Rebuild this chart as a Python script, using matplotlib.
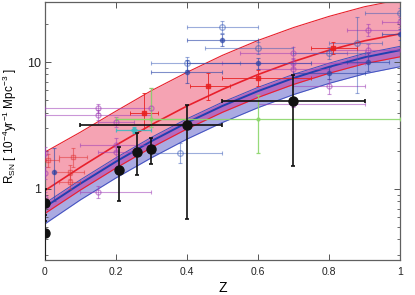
import matplotlib
matplotlib.use('Agg')
import matplotlib.pyplot as plt
import numpy as np
from matplotlib.ticker import LogLocator, NullFormatter, FixedLocator, FixedFormatter

plt.rcParams['font.family'] = ['Liberation Sans', 'DejaVu Sans']
plt.rcParams['mathtext.fontset'] = 'custom'
plt.rcParams['mathtext.rm'] = 'Liberation Sans'
plt.rcParams['mathtext.it'] = 'Liberation Sans'

# ============ МОДЕЛЬНЫЕ ПОЛОСЫ ============
z_model = [0.0, 0.1, 0.2, 0.3, 0.4, 0.5, 0.6, 0.7, 0.8, 0.9, 1.0]
red_mid = [0.97, 1.48, 2.21, 3.21, 4.50, 6.09, 7.97, 10.1, 12.4, 14.7, 16.7]
red_low = [0.64, 0.98, 1.46, 2.12, 2.97, 4.02, 5.26, 6.66, 8.16, 9.71, 11.0]
red_up = [1.95, 2.80, 4.10, 5.95, 8.3, 11.3, 14.8, 18.7, 22.9, 27.3, 31.0]
blue_mid = [0.72, 1.10, 1.64, 2.38, 3.33, 4.51, 5.90, 7.48, 9.16, 10.9, 12.4]
blue_up = [0.77, 1.18, 1.76, 2.55, 3.57, 4.83, 6.32, 8.0, 9.8, 11.7, 13.3]
blue_low = [0.53, 0.82, 1.22, 1.76, 2.47, 3.34, 4.37, 5.54, 6.79, 8.08, 9.19]

# ============ ДАННЫЕ (z, R, z_min, z_max, R_min, R_max) ============
black_z = [0.0, 0.0, 0.21, 0.26, 0.30, 0.40, 0.70]
black_r = [0.78, 0.45, 1.41, 1.96, 2.05, 3.19, 4.93]
black_zmin = [0.0, 0.0, 0.21, 0.26, 0.30, 0.10, 0.50]
black_zmax = [0.0, 0.0, 0.21, 0.26, 0.30, 0.50, 0.90]
black_rmin = [0.56, 0.25, 0.80, 1.29, 1.57, 0.58, 1.52]
black_rmax = [1.00, 0.62, 2.14, 2.76, 2.52, 4.58, 7.90]

blue_z = [0.40, 0.50, 0.60, 0.80, 0.91, 1.00, 0.025]
blue_r = [8.4, 14.9, 9.8, 8.2, 10.0, 16.6, 1.36]
blue_zmin = [0.30, 0.40, 0.40, 0.70, 0.85, 0.95, 0.025]
blue_zmax = [0.50, 0.60, 0.75, 0.90, 0.97, 1.00, 0.025]
blue_rmin = [6.9, 13.5, 8.8, 7.4, 8.5, 15.0, 0.80]
blue_rmax = [10.4, 16.5, 10.8, 9.1, 11.8, 18.2, 2.10]

bopen_z = [0.40, 0.50, 0.60, 0.80, 0.88, 1.00, 0.38]
bopen_r = [9.8, 19.0, 12.9, 11.8, 14.1, 24.3, 1.92]
bopen_zmin = [0.30, 0.40, 0.45, 0.70, 0.80, 0.90, 0.30]
bopen_zmax = [0.55, 0.60, 0.70, 0.90, 0.95, 1.00, 0.50]
bopen_rmin = [8.6, 17.0, 11.5, 10.5, 5.7, 22.0, 1.60]
bopen_rmax = [11.0, 21.0, 14.5, 13.2, 22.6, 26.5, 2.30]

purple_z = [0.15, 0.15, 0.30, 0.20, 0.20, 0.20, 0.0, 0.0, 0.0, 0.15,
            0.70, 0.70, 0.70, 0.80, 0.91, 0.91, 1.00, 0.70]
purple_r = [4.35, 3.83, 4.35, 3.37, 2.22, 1.96, 1.92, 1.34, 0.85, 0.95,
            11.8, 9.8, 8.8, 6.45, 17.9, 12.4, 20.6, 4.67]
purple_zmin = [0.0, 0.0, 0.30, 0.15, 0.10, 0.15, 0.0, 0.0, 0.0, 0.10,
               0.55, 0.50, 0.60, 0.70, 0.85, 0.80, 0.95, 0.60]
purple_zmax = [0.30, 0.30, 0.30, 0.25, 0.30, 0.25, 0.0, 0.0, 0.0, 0.30,
               0.85, 0.90, 0.80, 0.90, 1.00, 1.00, 1.00, 0.90]
purple_rmin = [4.0, 3.5, 3.1, 3.1, 2.0, 1.75, 1.7, 1.2, 0.75, 0.85,
               10.5, 8.9, 8.0, 5.6, 16.0, 11.0, 19.0, 4.4]
purple_rmax = [4.7, 4.2, 6.2, 3.7, 2.5, 2.2, 2.15, 1.5, 0.95, 1.05,
               13.2, 10.8, 9.6, 7.4, 20.0, 13.8, 22.5, 5.0]

red_z = [0.28, 0.46, 0.60, 0.81]
red_r = [3.97, 6.5, 7.5, 12.9]
red_zmin = [0.24, 0.41, 0.50, 0.75]
red_zmax = [0.32, 0.52, 0.75, 0.88]
red_rmin = [2.9, 5.0, 6.5, 11.5]
red_rmax = [5.7, 8.2, 8.7, 14.5]

ropen_z = [0.01, 0.08, 0.07, 0.07]
ropen_r = [1.69, 1.79, 1.36, 1.13]
ropen_zmin = [0.0, 0.04, 0.03, 0.04]
ropen_zmax = [0.04, 0.12, 0.11, 0.10]
ropen_rmin = [1.5, 1.5, 1.2, 1.0]
ropen_rmax = [1.9, 2.1, 1.55, 1.28]

green_z = [0.30, 0.60]
green_r = [3.55, 3.55]
green_zmin = [0.20, 0.20]
green_zmax = [0.40, 1.00]
green_rmin = [3.1, 1.92]
green_rmax = [6.2, 5.5]

cyan_z = [0.25]
cyan_r = [2.9]
cyan_zmin = [0.20]
cyan_zmax = [0.30]
cyan_rmin = [2.75]
cyan_rmax = [3.05]


def draw_points(ax, z, r, zmin, zmax, rmin, rmax, color, marker, ms, mfc, alpha, lw, zorder):
    z = np.array(z)
    r = np.array(r)
    xerr = [z - np.array(zmin), np.array(zmax) - z]
    yerr = [r - np.array(rmin), np.array(rmax) - r]
    ax.errorbar(z, r, xerr=xerr, yerr=yerr, fmt=marker, color=color, ms=ms,
                mfc=mfc, mec=color, elinewidth=lw, capsize=1.5, capthick=lw,
                alpha=alpha, zorder=zorder, clip_on=True)


fig = plt.figure(figsize=(4.15, 2.95), dpi=100)
ax = fig.add_axes([0.108, 0.119, 0.856, 0.874])

# полосы
ax.fill_between(z_model, blue_low, blue_up, color='#aaaae2', lw=0, zorder=1)
ax.fill_between(z_model, red_low, red_up, color='#f5a3b3', lw=0, zorder=1.1)
ax.fill_between(z_model, red_low, blue_up, color='#b46ac0', lw=0, zorder=1.2)
ax.plot(z_model, blue_low, color='#4050c0', lw=0.7, zorder=2)
ax.plot(z_model, blue_up, color='#4050c0', lw=0.7, zorder=2)
ax.plot(z_model, blue_mid, color='#2040b0', lw=1.4, zorder=2.2)
ax.plot(z_model, red_low, color='#e8202c', lw=0.8, zorder=2.1)
ax.plot(z_model, red_up, color='#e8202c', lw=0.8, zorder=2.1)
ax.plot(z_model, red_mid, color='#e8202c', lw=1.2, zorder=2.1)

# точки
draw_points(ax, purple_z, purple_r, purple_zmin, purple_zmax, purple_rmin, purple_rmax,
            '#a040b8', 'o', 3.5, 'none', 0.55, 0.8, 3)
draw_points(ax, bopen_z, bopen_r, bopen_zmin, bopen_zmax, bopen_rmin, bopen_rmax,
            '#3a5cb8', 'o', 4, 'none', 0.5, 0.8, 3)
draw_points(ax, blue_z, blue_r, blue_zmin, blue_zmax, blue_rmin, blue_rmax,
            '#2a44a8', 'o', 3, '#2a44a8', 0.6, 0.8, 3)
draw_points(ax, ropen_z, ropen_r, ropen_zmin, ropen_zmax, ropen_rmin, ropen_rmax,
            '#e03030', 's', 3.5, 'none', 0.5, 0.8, 3)
draw_points(ax, red_z, red_r, red_zmin, red_zmax, red_rmin, red_rmax,
            '#e82020', 's', 3.2, '#e82020', 0.85, 0.7, 3)
draw_points(ax, green_z, green_r, green_zmin, green_zmax, green_rmin, green_rmax,
            '#8cd66a', 'o', 2, '#8cd66a', 0.9, 0.9, 3)
draw_points(ax, cyan_z, cyan_r, cyan_zmin, cyan_zmax, cyan_rmin, cyan_rmax,
            '#40b8c0', 'D', 3, '#40b8c0', 0.9, 0.9, 3)
draw_points(ax, black_z, black_r, black_zmin, black_zmax, black_rmin, black_rmax,
            '#111111', 'o', 6.5, '#111111', 1.0, 1.2, 4)

ax.set_yscale('log')
ax.set_xlim(0, 1)
ax.set_ylim(0.276, 29.7)

ax.xaxis.set_major_locator(FixedLocator([0, 0.2, 0.4, 0.6, 0.8, 1.0]))
ax.xaxis.set_major_formatter(FixedFormatter(['0', '0.2', '0.4', '0.6', '0.8', '1']))
ax.yaxis.set_major_locator(FixedLocator([1, 10]))
ax.yaxis.set_major_formatter(FixedFormatter(['1', '10']))
ax.yaxis.set_minor_locator(LogLocator(base=10, subs=np.arange(2, 10)))
ax.yaxis.set_minor_formatter(NullFormatter())

ax.tick_params(which='both', direction='in', top=True, right=True, colors='#555555',
               labelcolor='#222222')
ax.tick_params(axis='x', which='major', length=4, width=0.7, labelsize=7.5, pad=5)
ax.tick_params(axis='y', which='major', length=4, width=0.7, labelsize=9, pad=3)
ax.tick_params(axis='y', which='minor', length=2.5, width=0.6)
for sp in ax.spines.values():
    sp.set_color('#606060')
    sp.set_linewidth(0.9)

ax.set_xlabel('Z', fontsize=10, labelpad=3)
ax.set_ylabel(r'R$_{\rm SN}$ [ 10$^{-4}$yr$^{-1}$ Mpc$^{-3}$ ]', fontsize=8.5)
ax.yaxis.set_label_coords(-0.072, 0.52)

plt.savefig('out.png', dpi=100)
